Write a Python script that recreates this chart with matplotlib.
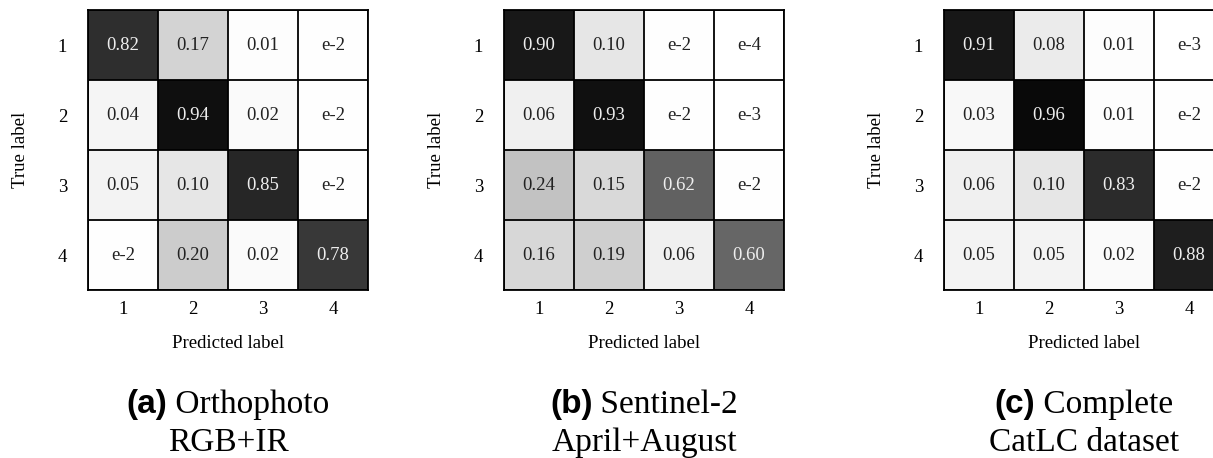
import numpy as np
import matplotlib
matplotlib.use("Agg")
import matplotlib.pyplot as plt

# class ids on both axes
classes = ["1", "2", "3", "4"]

# normalized confusion matrices (rows = true, cols = predicted)
# very small entries are shown as an order of magnitude ("e-2", ...)
cm_ortho = [
    [0.82, 0.17, 0.01, 0.004],
    [0.04, 0.94, 0.02, 0.004],
    [0.05, 0.10, 0.85, 0.004],
    [0.004, 0.20, 0.02, 0.78],
]
cm_s2 = [
    [0.90, 0.10, 0.004, 0.00005],
    [0.06, 0.93, 0.004, 0.0005],
    [0.24, 0.15, 0.62, 0.004],
    [0.16, 0.19, 0.06, 0.60],
]
cm_catlc = [
    [0.91, 0.08, 0.01, 0.0005],
    [0.03, 0.96, 0.01, 0.004],
    [0.06, 0.10, 0.83, 0.004],
    [0.05, 0.05, 0.02, 0.88],
]

lbl_ortho = [
    ["0.82", "0.17", "0.01", "e-2"],
    ["0.04", "0.94", "0.02", "e-2"],
    ["0.05", "0.10", "0.85", "e-2"],
    ["e-2", "0.20", "0.02", "0.78"],
]
lbl_s2 = [
    ["0.90", "0.10", "e-2", "e-4"],
    ["0.06", "0.93", "e-2", "e-3"],
    ["0.24", "0.15", "0.62", "e-2"],
    ["0.16", "0.19", "0.06", "0.60"],
]
lbl_catlc = [
    ["0.91", "0.08", "0.01", "e-3"],
    ["0.03", "0.96", "0.01", "e-2"],
    ["0.06", "0.10", "0.83", "e-2"],
    ["0.05", "0.05", "0.02", "0.88"],
]

captions = [
    ("(a)", "Orthophoto", "RGB+IR"),
    ("(b)", "Sentinel-2", "April+August"),
    ("(c)", "Complete", "CatLC dataset"),
]

SERIF = "Liberation Serif"
SANS = "Liberation Sans"

W, H = 1213, 458
fig = plt.figure(figsize=(W / 100, H / 100), dpi=100)

# axes boxes in pixels: left edge of each matrix, square 280 px
lefts = [88, 504, 944]
size, top = 280, 10

mats = [cm_ortho, cm_s2, cm_catlc]
lbls = [lbl_ortho, lbl_s2, lbl_catlc]

for left, cm, lbl in zip(lefts, mats, lbls):
    ax = fig.add_axes([left / W, (H - top - size) / H, size / W, size / H])
    cm = np.array(cm)
    ax.imshow(cm, cmap="gray_r", vmin=0, vmax=1, aspect="auto")
    for i in range(len(classes)):
        for j in range(len(classes)):
            ax.text(j, i, lbl[i][j], ha="center", va="center",
                    fontsize=13.5, family=SERIF,
                    color="#eeeeee" if cm[i, j] > 0.5 else "#222222")
    ax.set_xticks(range(len(classes)))
    ax.set_yticks(range(len(classes)))
    ax.set_xticklabels(classes, family=SERIF, fontsize=13.5)
    ax.set_yticklabels(classes, family=SERIF, fontsize=13.5)
    ax.tick_params(axis="x", length=0, pad=8)
    ax.tick_params(axis="y", length=0, pad=15)
    # cell borders
    ax.set_xticks(np.arange(-0.5, len(classes), 1), minor=True)
    ax.set_yticks(np.arange(-0.5, len(classes), 1), minor=True)
    ax.grid(which="minor", color="black", linewidth=1.3)
    ax.tick_params(which="minor", length=0)
    for s in ax.spines.values():
        s.set_linewidth(1.3)
    ax.set_xlabel("Predicted label", family=SERIF, fontsize=13.5)
    ax.xaxis.label.set_va("center")
    ax.xaxis.set_label_coords(0.5, -0.19)
    ax.set_ylabel("True label", family=SERIF, fontsize=13.5)
    ax.yaxis.label.set_va("center")
    ax.yaxis.set_label_coords(-0.24, 0.5)

# captions: bold sans tag + serif title, centred under each matrix
renderer = fig.canvas.get_renderer()
for left, (tag, line1, line2) in zip(lefts, captions):
    cx = (left + size / 2) / W
    t1 = fig.text(0, 0.117, tag, family=SANS, weight="bold", fontsize=24,
                  ha="left", va="center")
    t2 = fig.text(0, 0.117, " " + line1, family=SERIF, fontsize=24,
                  ha="left", va="center")
    w1 = t1.get_window_extent(renderer).width / W
    w2 = t2.get_window_extent(renderer).width / W
    x0 = cx - (w1 + w2) / 2
    t1.set_x(x0)
    t2.set_x(x0 + w1)
    fig.text(cx, 0.033, line2, family=SERIF, fontsize=24, ha="center", va="center")

fig.savefig("out.png", dpi=100)
